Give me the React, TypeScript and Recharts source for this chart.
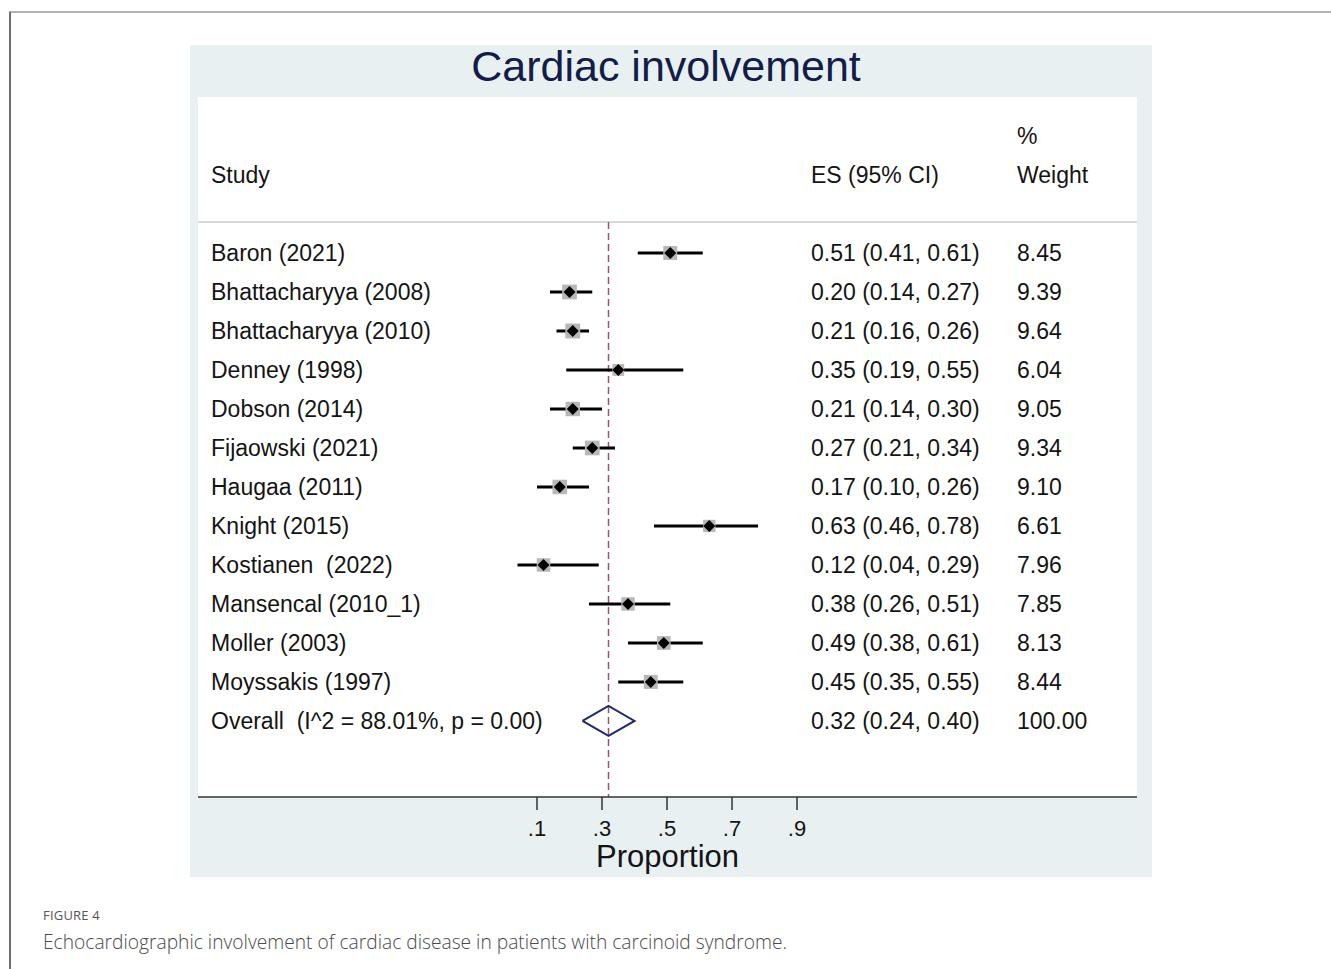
import React from 'react';
import {
  ComposedChart, Scatter, XAxis, YAxis, ErrorBar, ReferenceLine, CartesianGrid,
} from 'recharts';

// study rows
const STUDIES = [
  'Baron (2021)', 'Bhattacharyya (2008)', 'Bhattacharyya (2010)', 'Denney (1998)',
  'Dobson (2014)', 'Fijaowski (2021)', 'Haugaa (2011)', 'Knight (2015)',
  'Kostianen  (2022)', 'Mansencal (2010_1)', 'Moller (2003)', 'Moyssakis (1997)',
];
const ES = [0.51, 0.20, 0.21, 0.35, 0.21, 0.27, 0.17, 0.63, 0.12, 0.38, 0.49, 0.45];
const LO = [0.41, 0.14, 0.16, 0.19, 0.14, 0.21, 0.10, 0.46, 0.04, 0.26, 0.38, 0.35];
const HI = [0.61, 0.27, 0.26, 0.55, 0.30, 0.34, 0.26, 0.78, 0.29, 0.51, 0.61, 0.55];
const WEIGHTS = [8.45, 9.39, 9.64, 6.04, 9.05, 9.34, 9.10, 6.61, 7.96, 7.85, 8.13, 8.44];

const OVERALL_LABEL = 'Overall  (I^2 = 88.01%, p = 0.00)';
const OVERALL_ES = 0.32;
const OVERALL_LO = 0.24;
const OVERALL_HI = 0.40;
const OVERALL_WEIGHT = 100.0;

const X_TICKS = [0.1, 0.3, 0.5, 0.7, 0.9];
const X_TICK_LABELS = ['.1', '.3', '.5', '.7', '.9'];

const FONT = '"Liberation Sans", Arial, sans-serif';
const TEXT = '#141414';

const rows = STUDIES.map((name, i) => ({
  row: i,
  es: ES[i],
  err: [ES[i] - LO[i], HI[i] - ES[i]],
  weight: WEIGHTS[i],
}));

const overallRow = STUDIES.length;
// closed diamond outline for the pooled estimate
const overallDiamond = [
  { es: OVERALL_LO, row: overallRow },
  { es: OVERALL_ES, row: overallRow - 0.385 },
  { es: OVERALL_HI, row: overallRow },
  { es: OVERALL_ES, row: overallRow + 0.385 },
  { es: OVERALL_LO, row: overallRow },
];

const fmt = (v: number) => v.toFixed(2);

// column x positions inside the chart svg
const NAME_X = 21;
const ES_X = 621;
const W_X = 827;

const renderRowTick = (props: any) => {
  const { y, payload } = props;
  const v = Math.round(Number(payload?.value));
  const base = y + 8;
  const t = (x: number, s: string) => (
    <text x={x} y={base} fill={TEXT} fontSize={23} fontFamily={FONT} textAnchor="start" style={{ whiteSpace: 'pre' }}>{s}</text>
  );
  if (v === -3) return <g>{t(W_X, '%')}</g>;
  if (v === -2) return <g>{t(NAME_X, 'Study')}{t(ES_X, 'ES (95% CI)')}{t(W_X, 'Weight')}</g>;
  if (v === overallRow) {
    return (
      <g>
        {t(NAME_X, OVERALL_LABEL)}
        {t(ES_X, `${fmt(OVERALL_ES)} (${fmt(OVERALL_LO)}, ${fmt(OVERALL_HI)})`)}
        {t(W_X, fmt(OVERALL_WEIGHT))}
      </g>
    );
  }
  if (v < 0 || v >= STUDIES.length) return <g />;
  return (
    <g>
      {t(NAME_X, STUDIES[v])}
      {t(ES_X, `${fmt(ES[v])} (${fmt(LO[v])}, ${fmt(HI[v])})`)}
      {t(W_X, fmt(WEIGHTS[v]))}
    </g>
  );
};

const WeightBox = (props: any) => {
  const { cx, cy, payload } = props;
  const s = 4.8 * Math.sqrt(payload.weight);
  return <rect x={cx - s / 2} y={cy - s / 2} width={s} height={s} fill="#b8b8b8" />;
};

const Dot = (props: any) => {
  const { cx, cy } = props;
  const r = 6;
  return <polygon points={`${cx - r},${cy} ${cx},${cy - r} ${cx + r},${cy} ${cx},${cy + r}`} fill="#000" />;
};

const Nothing = () => <g />;

export default function App() {
  return (
    <div style={{ position: 'absolute', left: 0, top: 0, width: 1331, height: 969, background: '#fff', overflow: 'hidden' }}>
      <div style={{ position: 'absolute', left: 9, top: 11, width: 1322, height: 0, borderTop: '2px solid #b3b3b3' }} />
      <div style={{ position: 'absolute', left: 9, top: 12, width: 0, height: 957, borderLeft: '2px solid #6e6e6e' }} />

      <div style={{ position: 'absolute', left: 190, top: 45, width: 962, height: 832, background: '#e8f0f2' }}>
        <div
          style={{
            position: 'absolute', left: 0, top: 0, width: 952, height: 52, lineHeight: '43px',
            textAlign: 'center', fontFamily: FONT, fontSize: 43, color: '#141c48',
          }}
        >
          Cardiac involvement
        </div>
        <ComposedChart width={962} height={832} margin={{ top: 52, right: 15, bottom: 0, left: 7 }}>
          <CartesianGrid horizontal={false} vertical={false} fill="#ffffff" />
          <XAxis
            dataKey="es"
            type="number"
            domain={[-0.943, 1.946]}
            allowDataOverflow
            ticks={X_TICKS}
            tickFormatter={(v: number) => X_TICK_LABELS[X_TICKS.indexOf(v)] ?? ''}
            tick={{ fill: TEXT, fontSize: 22, fontFamily: FONT }}
            tickSize={13}
            tickMargin={10}
            axisLine={{ stroke: '#333', strokeWidth: 1.5 }}
            tickLine={{ stroke: '#333', strokeWidth: 1.5 }}
            height={80}
            label={{ value: 'Proportion', position: 'insideBottom', offset: 10, fontSize: 31, fill: TEXT, fontFamily: FONT }}
          />
          <YAxis
            dataKey="row"
            type="number"
            domain={[-4, 13.95]}
            reversed
            allowDataOverflow
            width={1}
            ticks={[-3, -2, ...rows.map((r) => r.row), overallRow]}
            interval={0}
            axisLine={false}
            tickLine={false}
            tick={renderRowTick}
          />
          <ReferenceLine y={-0.795} stroke="#c8cdd0" strokeWidth={1.5} />
          <ReferenceLine
            segment={[{ x: OVERALL_ES, y: -0.795 }, { x: OVERALL_ES, y: 13.95 }]}
            stroke="#a3506a"
            strokeWidth={1.5}
            strokeDasharray="7 4"
          />
          <Scatter data={rows} shape={<WeightBox />} isAnimationActive={false} />
          <Scatter data={rows} shape={<Nothing />} isAnimationActive={false}>
            <ErrorBar dataKey="err" direction="x" width={0} stroke="#000" strokeWidth={3} isAnimationActive={false} />
          </Scatter>
          <Scatter data={rows} shape={<Dot />} isAnimationActive={false} />
          <Scatter
            data={overallDiamond}
            shape={<Nothing />}
            line={{ stroke: '#1f2a6e', strokeWidth: 2 }}
            lineType="joint"
            isAnimationActive={false}
          />
        </ComposedChart>
      </div>

      <div style={{ position: 'absolute', left: 43, top: 906, fontFamily: '"Open Sans", sans-serif', fontSize: 13, color: '#555', letterSpacing: 0.2 }}>
        FIGURE 4
      </div>
      <div style={{ position: 'absolute', left: 43, top: 928, fontFamily: '"Open Sans", sans-serif', fontSize: 19.2, color: '#4a4a4a', fontWeight: 300 }}>
        Echocardiographic involvement of cardiac disease in patients with carcinoid syndrome.
      </div>
    </div>
  );
}
